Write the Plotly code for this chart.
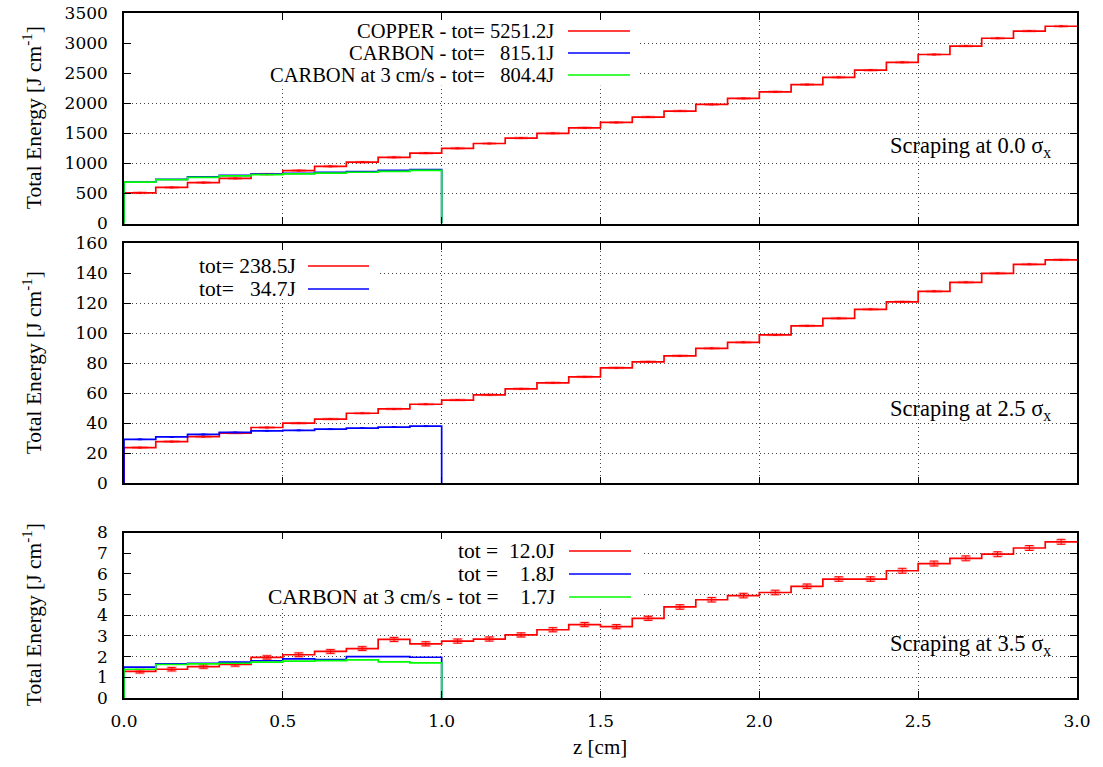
import plotly.graph_objects as go

# ---------------- data ----------------
bin_left = [0.0, 0.1, 0.2, 0.3, 0.4, 0.5, 0.6, 0.7, 0.8, 0.9,
            1.0, 1.1, 1.2, 1.3, 1.4, 1.5, 1.6, 1.7, 1.8, 1.9,
            2.0, 2.1, 2.2, 2.3, 2.4, 2.5, 2.6, 2.7, 2.8, 2.9]
copper_end = 3.0
carbon_end = 1.0

# Scraping at 0.0 sigma_x
copper_0 = [510, 600, 680, 750, 820, 880, 950, 1020, 1100, 1170,
            1250, 1330, 1420, 1500, 1590, 1680, 1770, 1870, 1980, 2080,
            2190, 2310, 2430, 2550, 2680, 2810, 2950, 3080, 3200, 3280]
carbon_0 = [690, 735, 775, 800, 820, 835, 850, 865, 885, 895]
carbon3_0 = [688, 730, 768, 792, 812, 824, 838, 852, 867, 882]

# Scraping at 2.5 sigma_x
copper_25 = [23.8, 27.8, 31.1, 33.5, 37.2, 40.1, 42.8, 46.7, 49.6, 52.7,
             55.5, 59, 63, 67, 71, 77, 81, 85, 90, 94,
             99, 105, 110, 116, 121, 128, 134, 140, 146, 149]
carbon_25 = [29.3, 30.9, 32.6, 33.9, 35.0, 35.3, 36.1, 36.8, 37.5, 38.1]

# Scraping at 3.5 sigma_x
copper_35 = [1.29, 1.39, 1.52, 1.62, 1.96, 2.09, 2.25, 2.39, 2.83, 2.62,
             2.75, 2.85, 3.05, 3.30, 3.55, 3.45, 3.85, 4.40, 4.75, 4.95,
             5.10, 5.40, 5.75, 5.75, 6.15, 6.50, 6.75, 6.95, 7.25, 7.55]
copper_35_err = [0.08, 0.08, 0.08, 0.08, 0.08, 0.09, 0.09, 0.09, 0.1, 0.1,
                 0.1, 0.1, 0.1, 0.1, 0.1, 0.1, 0.1, 0.11, 0.11, 0.11,
                 0.11, 0.11, 0.11, 0.11, 0.12, 0.12, 0.12, 0.12, 0.12, 0.12]
carbon_35 = [1.49, 1.65, 1.68, 1.73, 1.80, 1.89, 1.86, 2.00, 2.00, 1.97]
carbon3_35 = [1.39, 1.62, 1.65, 1.68, 1.73, 1.78, 1.81, 1.84, 1.75, 1.70]

legend_top = ["COPPER - tot= 5251.2J", "CARBON - tot=   815.1J",
              "CARBON at 3 cm/s - tot=   804.4J"]
legend_mid = ["tot= 238.5J", "tot=   34.7J"]
legend_bot = ["tot =  12.0J", "tot =    1.8J", "CARBON at 3 cm/s - tot =    1.7J"]
scraping = ["Scraping at 0.0 σ<sub>x</sub>", "Scraping at 2.5 σ<sub>x</sub>",
            "Scraping at 3.5 σ<sub>x</sub>"]

RED, BLUE, GREEN = "#ff0000", "#0000ff", "#00ff00"
FONT = "Liberation Serif"
TICKFONT = "DejaVu Serif"

# ---------------- layout geometry (screen pixels; body margin removed below) ----------------
W, H = 1103, 767
L, T = 124, 13
R = W - 1077
B = H - 698
PW, PH = W - L - R, H - T - B


def pxx(x):
    return (x - L) / PW


def pxy(y):
    return (H - B - y) / PH


dom_top = [pxy(223.5), 1.0]
dom_mid = [pxy(483.3), pxy(243.3)]
dom_bot = [0.0, pxy(532.5)]


def step(vals, end, drop):
    n = len(vals)
    xs = [bin_left[0]] + bin_left[:n] + [end]
    ys = [0] + list(vals) + [vals[-1]]
    if drop:
        xs.append(end)
        ys.append(0)
    return xs, ys


def centers(n):
    return [round(b + 0.05, 2) for b in bin_left[:n]]


fig = go.Figure()


def add_step(vals, end, color, ax, drop=True):
    xs, ys = step(vals, end, drop)
    fig.add_trace(go.Scatter(x=xs, y=ys, mode="lines", line=dict(color=color, width=1.7, shape="hv"),
                             xaxis="x" + ax, yaxis="y" + ax, showlegend=False, hoverinfo="skip"))


def add_err(vals, err, color, ax, shade_dx, shade_th, cap=3):
    n = len(vals)
    fig.add_trace(go.Scatter(
        x=centers(n), y=vals, mode="markers", marker=dict(size=1, color=color),
        error_x=dict(type="constant", value=shade_dx,
                     color="rgba(255,0,0,0.3)" if color == RED else "rgba(0,0,255,0.25)",
                     thickness=shade_th, width=0),
        error_y=dict(type="data", array=err, color=color, thickness=1, width=cap),
        xaxis="x" + ax, yaxis="y" + ax, showlegend=False, hoverinfo="skip"))


# top panel
add_step(copper_0, copper_end, RED, "", drop=False)
add_err(copper_0, [8] * 30, RED, "", 0.022, 3, 2)
add_step(carbon_0, carbon_end, BLUE, "")
add_step(carbon3_0, carbon_end, GREEN, "")
# middle panel
add_step(copper_25, copper_end, RED, "2", drop=False)
add_err(copper_25, [0.3] * 30, RED, "2", 0.025, 3, 2)
add_step(carbon_25, carbon_end, BLUE, "2")
add_err(carbon_25, [0.25] * 10, BLUE, "2", 0.015, 2, 2)
# bottom panel
add_step(copper_35, copper_end, RED, "3", drop=False)
add_err(copper_35, copper_35_err, RED, "3", 0.016, 6, 4)
add_step(carbon_35, carbon_end, BLUE, "3")
add_step(carbon3_35, carbon_end, GREEN, "3")

axis_common = dict(showline=True, linecolor="black", linewidth=1.5, mirror="allticks",
                   ticks="inside", ticklen=7, tickwidth=1, tickcolor="black",
                   showgrid=True, gridcolor="#444444", gridwidth=1, griddash="1px,3px",
                   zeroline=False, tickfont=dict(family=TICKFONT, size=17, color="black"),
                   ticklabelstandoff=11, automargin=False, ticklabeloverflow="allow")

xcommon = dict(axis_common, range=[0, 3], dtick=0.5, tick0=0, tickformat=".1f", ticklabelstandoff=7)
fig.update_layout(
    width=W, height=H, margin=dict(l=L, r=R, t=T, b=B, autoexpand=False),
    paper_bgcolor="white", plot_bgcolor="white",
    font=dict(family=FONT, size=21, color="black"),
    xaxis=dict(xcommon, domain=[0, 1], anchor="y", showticklabels=False),
    yaxis=dict(axis_common, domain=dom_top, anchor="x", range=[0, 3500], dtick=500, tick0=0),
    xaxis2=dict(xcommon, domain=[0, 1], anchor="y2", showticklabels=False, matches="x"),
    yaxis2=dict(axis_common, domain=dom_mid, anchor="x2", range=[0, 160], dtick=20, tick0=0),
    xaxis3=dict(xcommon, domain=[0, 1], anchor="y3", matches="x"),
    yaxis3=dict(axis_common, domain=dom_bot, anchor="x3", range=[0, 8], dtick=1, tick0=0),
    showlegend=False,
)

shapes = []
annotations = []

# legend backgrounds (hide grid behind key)
XS = 3.0 / PW  # data units per pixel in x
for ax, x1px, (ylo, yhi) in [("", 640, (2292, 3500)), ("2", 378, (122.9, 160)), ("3", 642, (4.36, 8))]:
    shapes.append(dict(type="rect", xref="x" + ax, yref="y" + ax, x0=0, x1=(x1px - 124) * XS,
                       y0=ylo, y1=yhi, fillcolor="white", line=dict(width=0), layer="between"))


def key(labels, colors, text_right, s0, s1, rows, size):
    for lab, col, yy in zip(labels, colors, rows):
        annotations.append(dict(text=lab.replace(" ", "\u00a0"), xref="paper", yref="paper",
                                x=pxx(text_right), y=pxy(yy), xanchor="right", yanchor="middle",
                                showarrow=False, font=dict(family=FONT, size=size, color="black")))
        shapes.append(dict(type="line", xref="paper", yref="paper", x0=pxx(s0), x1=pxx(s1),
                           y0=pxy(yy), y1=pxy(yy), line=dict(color=col, width=1.5), layer="above"))


key(legend_top, [RED, BLUE, GREEN], 556, 568, 630, [31, 53, 75], 20.5)
key(legend_mid, [RED, BLUE], 298, 308, 369, [266, 289], 21.5)
key(legend_bot, [RED, BLUE, GREEN], 557, 569, 631, [551, 574, 597], 21.5)

# scraping labels
for txt, ax, yv in [(scraping[0], "", 1270), (scraping[1], "2", 49.0), (scraping[2], "3", 2.55)]:
    annotations.append(dict(text=txt, xref="x" + ax, yref="y" + ax, x=2.925, y=yv,
                            xanchor="right", yanchor="middle", showarrow=False,
                            font=dict(family=FONT, size=22.5, color="black")))

# y titles
for dom in (dom_top, dom_mid, dom_bot):
    annotations.append(dict(text="Total Energy [J cm<sup>-1</sup>]", xref="paper", yref="paper",
                            x=pxx(32), y=(dom[0] + dom[1]) / 2, textangle=-90,
                            xanchor="center", yanchor="middle", showarrow=False,
                            font=dict(family=FONT, size=21.5, color="black")))
# x title
annotations.append(dict(text="z [cm]", xref="paper", yref="paper", x=pxx(600), y=pxy(747),
                        xanchor="center", yanchor="middle", showarrow=False,
                        font=dict(family=FONT, size=21, color="black")))

fig.update_layout(shapes=shapes, annotations=annotations)
fig.write_html("out.html", config={"displayModeBar": False},
               post_script="document.body.style.margin='0';document.body.style.overflow='hidden';")
